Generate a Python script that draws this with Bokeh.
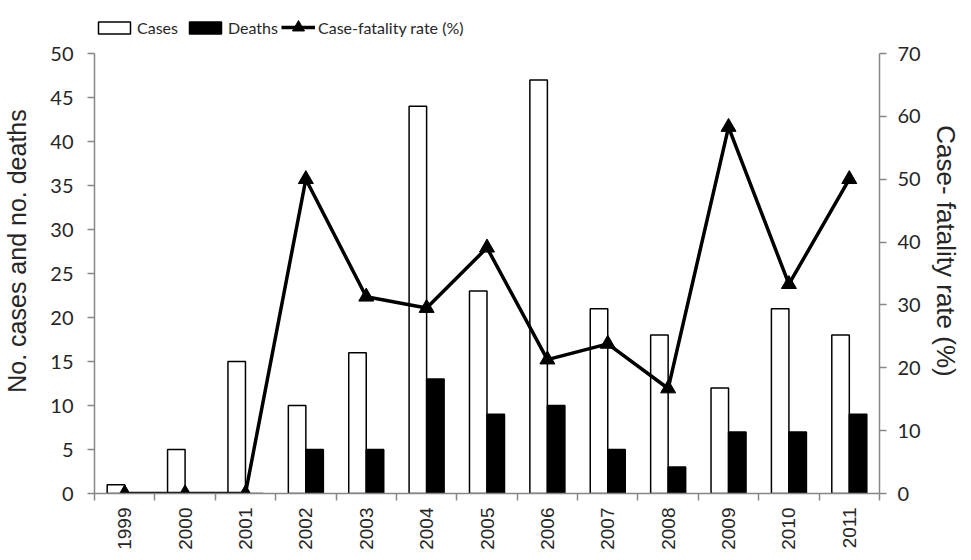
import math
import numpy as np
from bokeh.plotting import figure
from bokeh.models import (Range1d, LinearAxis, FixedTicker, Legend, LegendItem, ColumnDataSource)
from bokeh.embed import file_html
from bokeh.resources import INLINE

years = ["1999", "2000", "2001", "2002", "2003", "2004", "2005", "2006",
         "2007", "2008", "2009", "2010", "2011"]
cases = [1, 5, 15, 10, 16, 44, 23, 47, 21, 18, 12, 21, 18]
deaths = [0, 0, 0, 5, 5, 13, 9, 10, 5, 3, 7, 7, 9]
cfr = [0, 0, 0, 50, 31.3, 29.5, 39.1, 21.3, 23.8, 16.7, 58.3, 33.3, 50]
left_ticks = list(range(0, 55, 5))
right_ticks = list(range(0, 80, 10))
LEFT_MAX, RIGHT_MAX = 50, 70

n = len(years)
xc = np.arange(n) + 0.5
src = ColumnDataSource(dict(x=xc, xa=xc - 0.145, xb=xc + 0.145,
                            cases=cases, deaths=deaths, cfr=cfr))

TICK_FONT = "Lato"
TITLE_FONT = "Liberation Sans"
GRAY = "#868686"
TXT = "#262626"

# frame: axis scale occupies 440 px, extra headroom above it holds the legend
AXIS_PX, HEAD_PX = 440, 45
k = (AXIS_PX + HEAD_PX) / AXIS_PX

p = figure(width=963, height=552, output_backend="svg", toolbar_location=None,
           x_range=Range1d(0, n), y_range=Range1d(0, LEFT_MAX * k),
           min_border_left=93, min_border_right=78, min_border_top=8, min_border_bottom=59)
p.extra_y_ranges = {"cfr": Range1d(0, RIGHT_MAX * k)}
p.outline_line_color = None
p.xgrid.visible = False
p.ygrid.visible = False

r_cases = p.vbar(x="xa", top="cases", width=0.29, source=src,
                 fill_color="white", line_color="black", line_width=1.5)
r_deaths = p.vbar(x="xb", top="deaths", width=0.29, source=src,
                  fill_color="black", line_color="black", line_width=1.5)
r_line = p.line(x="x", y="cfr", source=src, y_range_name="cfr",
                line_color="black", line_width=3.5)
r_pts = p.scatter(x="x", y="cfr", source=src, y_range_name="cfr", marker="triangle",
                  size=15, fill_color="black", line_color="black")

# x axis
xa = p.xaxis[0]
xa.ticker = FixedTicker(ticks=list(xc), minor_ticks=list(range(0, n + 1)))
xa.major_label_overrides = {float(v): y for v, y in zip(xc, years)}
xa.major_tick_out = 0
xa.major_tick_in = 0
xa.minor_tick_out = 7
xa.minor_tick_in = 0
xa.minor_tick_line_color = GRAY
xa.minor_tick_line_width = 1.5
xa.axis_line_color = GRAY
xa.axis_line_width = 1.5
xa.major_label_orientation = math.pi / 2
xa.major_label_standoff = 7
xa.major_label_text_font = TITLE_FONT
xa.major_label_text_font_size = "19px"
xa.major_label_text_color = TXT

# left axis
ya = p.yaxis[0]
ya.ticker = FixedTicker(ticks=left_ticks)
ya.bounds = (0, LEFT_MAX)
ya.minor_tick_line_color = None
ya.major_tick_out = 7
ya.major_tick_in = 0
ya.major_tick_line_color = GRAY
ya.major_tick_line_width = 1.5
ya.axis_line_color = GRAY
ya.axis_line_width = 1.5
ya.major_label_text_font = TICK_FONT
ya.major_label_text_font_size = "20px"
ya.major_label_text_color = TXT
ya.major_label_standoff = 14
ya.axis_label = "No. cases and no. deaths"
ya.axis_label_text_font = TITLE_FONT
ya.axis_label_text_font_size = "25px"
ya.axis_label_text_font_style = "normal"
ya.axis_label_text_color = TXT
ya.axis_label_standoff = 16

# right axis
ra = LinearAxis(y_range_name="cfr", ticker=FixedTicker(ticks=right_ticks), bounds=(0, RIGHT_MAX))
ra.minor_tick_line_color = None
ra.major_tick_out = 7
ra.major_tick_in = 0
ra.major_tick_line_color = GRAY
ra.major_tick_line_width = 1.5
ra.axis_line_color = GRAY
ra.axis_line_width = 1.5
ra.major_label_text_font = TICK_FONT
ra.major_label_text_font_size = "20px"
ra.major_label_text_color = TXT
ra.major_label_standoff = 11
ra.axis_label = "Case- fatality rate (%)"
ra.axis_label_text_font = TITLE_FONT
ra.axis_label_text_font_size = "26px"
ra.axis_label_text_font_style = "normal"
ra.axis_label_text_color = TXT
ra.axis_label_standoff = 7
p.add_layout(ra, "right")

def mk_legend(items, loc, gw, gh):
    lg = Legend(items=items, orientation="horizontal", location=loc,
                glyph_width=gw, glyph_height=gh, padding=0, margin=0, spacing=0,
                label_standoff=3, border_line_color=None, background_fill_alpha=0,
                label_text_font=TICK_FONT, label_text_font_size="16px",
                label_text_color=TXT, label_height=20)
    p.add_layout(lg, "center")
    return lg

top_px = AXIS_PX + HEAD_PX
mk_legend([LegendItem(label="Cases", renderers=[r_cases])], (0, top_px - 29), 40, 15)
mk_legend([LegendItem(label="Deaths", renderers=[r_deaths])], (91, top_px - 29), 40, 15)
mk_legend([LegendItem(label="Case-fatality rate (%)", renderers=[r_line, r_pts])], (187, top_px - 34), 34, 30)

open("out.html", "w").write(file_html(p, INLINE))
